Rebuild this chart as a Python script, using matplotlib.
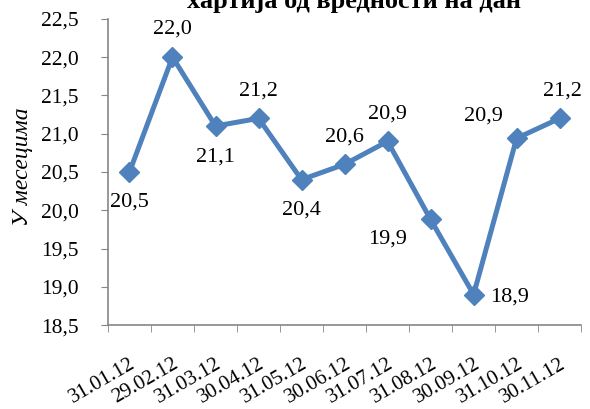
import matplotlib as mpl
mpl.use('Agg')
import matplotlib.pyplot as plt
from matplotlib.ticker import FuncFormatter, MultipleLocator
import numpy as np

# data
dates = ['31.01.12', '29.02.12', '31.03.12', '30.04.12', '31.05.12', '30.06.12',
         '31.07.12', '31.08.12', '30.09.12', '31.10.12', '30.11.12']
values = [20.5, 22.0, 21.1, 21.2, 20.4, 20.6, 20.9, 19.88, 18.9, 20.94, 21.2]
# where each data label sits relative to its point (dx, dy in points)
label_pos = [(0, -22), (0, 20), (0, -22), (0, 20), (0, -22), (0, 20),
             (0, 20), (-31, -14), (26, -2), (-24, 16), (2, 20)]

title = 'хартија од вредности на дан'
ylabel = 'У месецима'

plt.rcParams['font.family'] = ['Liberation Serif', 'DejaVu Serif']

fig = plt.figure(figsize=(5.9, 4.09), dpi=100)
ax = fig.add_axes([0.183, 0.205, 0.802, 0.749])

x = np.arange(len(dates))
ax.plot(x, values, color='#4F81BD', linewidth=3.6, marker='D', markersize=10,
        markerfacecolor='#4F81BD', markeredgecolor='#4F81BD')

for xi, v, (dx, dy) in zip(x, values, label_pos):
    ax.annotate(('%.1f' % v).replace('.', ','), (xi, v), xytext=(dx, dy),
                textcoords='offset points', ha='center', va='center', fontsize=16)

ax.set_xlim(-0.5, len(dates) - 0.5)
ax.set_ylim(18.5, 22.5)
ax.yaxis.set_major_locator(MultipleLocator(0.5))
ax.yaxis.set_major_formatter(FuncFormatter(lambda v, p: ('%.1f' % v).replace('.', ',')))

ax.set_xticks(x)
ax.set_xticklabels(dates, rotation=30, ha='right', va='top', rotation_mode='anchor', fontsize=15)
ax.set_xticks(np.arange(-0.5, len(dates)), minor=True)
ax.tick_params(axis='x', which='major', length=0, pad=21)
ax.tick_params(axis='x', which='minor', length=5, color='#868686', direction='out')
ax.tick_params(axis='y', length=5, color='#868686', labelsize=15.5, pad=16)

for s in ['top', 'right']:
    ax.spines[s].set_visible(False)
for s in ['left', 'bottom']:
    ax.spines[s].set_color('#868686')
    ax.spines[s].set_linewidth(1.2)

ax.set_ylabel(ylabel, fontsize=17, style='italic')
ax.yaxis.set_label_coords(-0.158, 0.516)
fig.text(0.6, 0.98, title, ha='center', va='baseline', fontsize=19, fontweight='bold')

fig.savefig('out.png', dpi=100)
